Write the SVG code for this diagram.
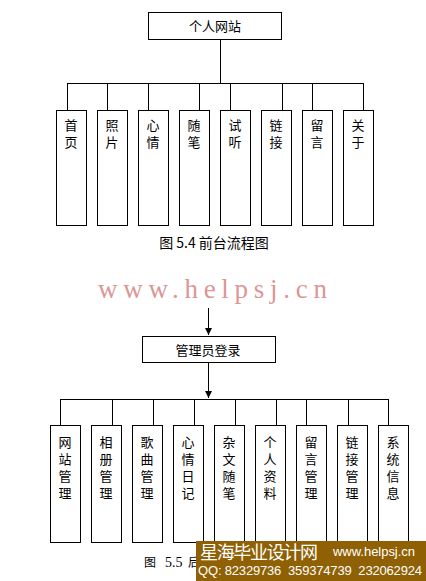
<svg xmlns="http://www.w3.org/2000/svg" width="426" height="581" viewBox="0 0 426 581">
<defs>
<style>
.box{fill:#fff;stroke:#000;stroke-width:1}
.ln{stroke:#000;stroke-width:1;fill:none}
.t{font-family:"Noto Sans CJK SC","Liberation Sans",sans-serif;font-size:13px;fill:#000;text-anchor:middle}
.v{font-family:"Noto Sans CJK SC","Liberation Sans",sans-serif;font-size:13px;fill:#000;writing-mode:vertical-rl;text-orientation:upright;letter-spacing:4px}
</style>
<marker id="ah" markerWidth="8" markerHeight="8" refX="7" refY="4" orient="auto" markerUnits="userSpaceOnUse">
<path d="M0,0.5 L7,4 L0,7.5 Z" fill="#000"/>
</marker>
</defs>
<rect width="426" height="581" fill="#fff"/>
<g id="connectors">
<path class="ln" d="M220.5,39 V83.5 M67.5,83.5 H363.5 M67.5,83 V110 M107.5,83 V110 M148.5,83 V110 M199.5,83 V110 M230.5,83 V110 M282.5,83 V110 M312.5,83 V110 M363.5,83 V110"/>
<line class="ln" x1="208.5" y1="308" x2="208.5" y2="335" marker-end="url(#ah)"/>
<line class="ln" x1="208.5" y1="362" x2="208.5" y2="398" marker-end="url(#ah)"/>
<path class="ln" d="M60.5,399.5 H388.5 M60.5,399 V425 M112.5,399 V425 M153.5,399 V425 M194.5,399 V425 M235.5,399 V425 M276.5,399 V425 M306.5,399 V425 M348.5,399 V425 M388.5,399 V425"/>
</g>
<g id="root"><rect class="box" x="148.5" y="12.5" width="133" height="27"/><text class="t" x="215" y="31">个人网站</text></g>
<g id="n1"><rect class="box" x="56.5" y="110.5" width="30" height="115"/><text class="v" x="71" y="118.5">首页</text></g>
<g id="n2"><rect class="box" x="97.5" y="110.5" width="30" height="115"/><text class="v" x="112" y="118.5">照片</text></g>
<g id="n3"><rect class="box" x="138.5" y="110.5" width="30" height="115"/><text class="v" x="153" y="118.5">心情</text></g>
<g id="n4"><rect class="box" x="179.5" y="110.5" width="30" height="115"/><text class="v" x="194" y="118.5">随笔</text></g>
<g id="n5"><rect class="box" x="220.5" y="110.5" width="30" height="115"/><text class="v" x="235" y="118.5">试听</text></g>
<g id="n6"><rect class="box" x="261.5" y="110.5" width="30" height="115"/><text class="v" x="276" y="118.5">链接</text></g>
<g id="n7"><rect class="box" x="302.5" y="110.5" width="30" height="115"/><text class="v" x="317" y="118.5">留言</text></g>
<g id="n8"><rect class="box" x="343.5" y="110.5" width="30" height="115"/><text class="v" x="358" y="118.5">关于</text></g>
<text id="cap1" x="214" y="248" style="font-family:'Noto Sans CJK SC','Liberation Sans',sans-serif;font-size:14px;text-anchor:middle">图 5.4 前台流程图</text>
<text id="wm" x="98" y="298" style="font-family:'Liberation Serif',serif;font-size:27px;fill:#dc9696" textLength="229" lengthAdjust="spacing">www.helpsj.cn</text>
<g id="admin"><rect class="box" x="142.5" y="336.5" width="133" height="26"/><text class="t" x="208" y="355">管理员登录</text></g>
<g id="m1"><rect class="box" x="50.5" y="425.5" width="30" height="117"/><text class="v" x="65" y="435.5">网站管理</text></g>
<g id="m2"><rect class="box" x="91.5" y="425.5" width="30" height="117"/><text class="v" x="106" y="435.5">相册管理</text></g>
<g id="m3"><rect class="box" x="132.5" y="425.5" width="30" height="117"/><text class="v" x="147" y="435.5">歌曲管理</text></g>
<g id="m4"><rect class="box" x="173.5" y="425.5" width="30" height="117"/><text class="v" x="188" y="435.5">心情日记</text></g>
<g id="m5"><rect class="box" x="214.5" y="425.5" width="30" height="117"/><text class="v" x="229" y="435.5">杂文随笔</text></g>
<g id="m6"><rect class="box" x="255.5" y="425.5" width="30" height="117"/><text class="v" x="270" y="435.5">个人资料</text></g>
<g id="m7"><rect class="box" x="296.5" y="425.5" width="30" height="117"/><text class="v" x="311" y="435.5">留言管理</text></g>
<g id="m8"><rect class="box" x="337.5" y="425.5" width="30" height="117"/><text class="v" x="352" y="435.5">链接管理</text></g>
<g id="m9"><rect class="box" x="378.5" y="425.5" width="30" height="117"/><text class="v" x="393" y="435.5">系统信息</text></g>
<text id="cap2" y="567" style="font-family:'Noto Sans CJK SC','Liberation Sans',sans-serif;font-size:12px;fill:#000"><tspan x="144">图</tspan><tspan x="165" style="font-family:'Liberation Serif',serif;font-size:14px">5.5</tspan><tspan x="188">后</tspan></text>
<g id="banner">
<rect x="196" y="541" width="230" height="40" fill="#8f6104"/>
<text x="200" y="559" style="font-family:'Noto Sans CJK SC',sans-serif;font-size:18px;fill:#fff" textLength="118">星海毕业设计网</text>
<text x="333" y="556" style="font-family:'Liberation Sans',sans-serif;font-size:13px;fill:#fff" textLength="82">www.helpsj.cn</text>
<text x="198" y="575" style="font-family:'Liberation Sans',sans-serif;font-size:13px;fill:#fff" textLength="224" xml:space="preserve">QQ: 82329736  359374739  232062924</text>
</g>
</svg>
